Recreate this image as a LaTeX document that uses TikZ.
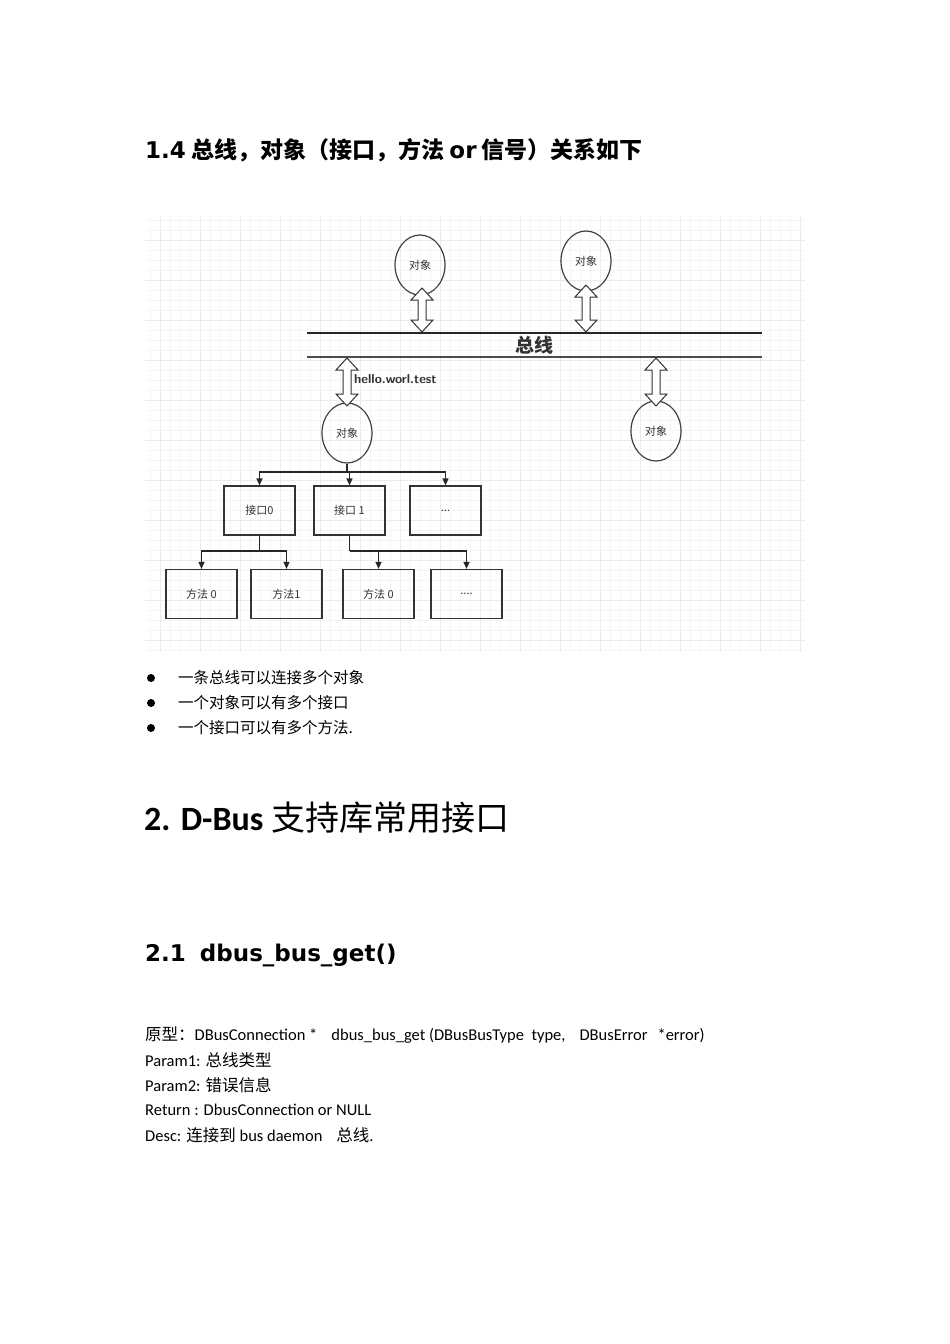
\documentclass[tikz,border=0pt]{standalone}
\usepackage{fontspec}
\setmainfont{Carlito}
\newfontfamily\cjk{Noto Sans CJK SC}
\newfontfamily\dvs{DejaVu Sans}
\usetikzlibrary{shapes.geometric,arrows.meta}
\newcommand\darr[3]{\draw[line width=1pt,fill=white,draw=black!80] (#1,#2) -- (#1+11,#2+12) -- (#1+4,#2+12) -- (#1+4,#3-12) -- (#1+11,#3-12) -- (#1,#3) -- (#1-11,#3-12) -- (#1-4,#3-12) -- (#1-4,#2+12) -- (#1-11,#2+12) -- cycle;}
\begin{document}
\begin{tikzpicture}[x=1pt,y=-1pt,
  obj/.style={ellipse,draw=black!75,line width=1.2pt,minimum width=50pt,minimum height=60pt,inner sep=0pt,font=\cjk\fontsize{11}{12}\selectfont,text=black!80},
  box/.style={rectangle,draw=black!80,line width=1.2pt,minimum width=71pt,minimum height=49pt,inner sep=0pt,font=\cjk\fontsize{11}{12}\selectfont,text=black!80},
  tree/.style={draw=black!85,line width=1.4pt,-{Triangle[length=7pt,width=6pt]}},
  body/.style={anchor=west,font=\fontsize{16.5}{18}\selectfont,inner sep=0pt}]
\useasboundingbox (0,0) rectangle (950,1344);
\fill[white] (0,0) rectangle (950,1344);
\node[anchor=west,inner sep=0pt,font=\cjk\bfseries\fontsize{23}{25}\selectfont] (t1) at (145,150) {{\dvs\bfseries 1.4} 总线，对象（接口，方法 {\dvs\bfseries or} 信号）关系如下};
% grid
\draw[black!4,line width=0.5pt] (145,215) grid[step=10pt] (805,652);
\draw[black!8,line width=0.6pt] (145,215) grid[step=40pt] (805,652);
% bus
\draw[black!85,line width=1.2pt] (307,333) -- (762,333);
\draw[black!70,line width=1.2pt] (307,357) -- (762,357);
\node[font=\cjk\bfseries\fontsize{19}{20}\selectfont,text=black!80] (bus) at (534,345) {总线};
\node[obj] (o1) at (420,265) {对象};
\node[obj] (o2) at (586,261) {对象};
\node[obj] (o3) at (347,433) {对象};
\node[obj] (o4) at (656,431) {对象};
\darr{422}{288}{332}
\darr{586}{285}{332}
\darr{347}{358}{406}
\darr{656}{358}{406}
\node[anchor=west,inner sep=0pt,font=\bfseries\sffamily\fontsize{13}{14}\selectfont,text=black!80] (hw) at (354,379) {hello.worl.test};
\node[box] (i0) at (259.5,510.5) {接口0};
\node[box] (i1) at (349.5,510.5) {接口 1};
\node[box] (i2) at (445.5,510.5) {...};
\node[box] (m0) at (201.5,594) {方法 0};
\node[box] (m1) at (286.5,594) {方法1};
\node[box] (m2) at (378.5,594) {方法 0};
\node[box] (m3) at (466.5,594) {....};
\coordinate (j0) at (347,472);
\draw[black!85,line width=1.4pt] (o3.south) -- (j0);
\draw[tree] (j0) -| (i0.north);
\draw[tree] (j0) -| (i1.north);
\draw[tree] (j0) -| (i2.north);
\coordinate (j1) at (259.5,551);
\draw[black!85,line width=1.4pt] (i0.south) -- (j1);
\draw[tree] (j1) -| (m0.north);
\draw[tree] (j1) -| (m1.north);
\coordinate (j2) at (349.5,551);
\draw[black!85,line width=1.4pt] (i1.south) -- (j2);
\draw[tree] (j2) -| (m2.north);
\draw[tree] (j2) -| (m3.north);
% bullets
\foreach \y/\t [count=\i] in {678/一条总线可以连接多个对象,703/一个对象可以有多个接口,728/一个接口可以有多个方法.}{
  \fill (151,\y) circle (4pt);
  \node[anchor=west,inner sep=0pt,font=\cjk\fontsize{15.5}{17}\selectfont] (b\i) at (178,\y) {\t};
}
\node[anchor=west,inner sep=0pt,font=\bfseries\fontsize{34}{36}\selectfont] (h2) at (144,818) {2. D-Bus {\cjk\mdseries 支持库常用接口}};
\node[anchor=west,inner sep=0pt,font=\dvs\bfseries\fontsize{23}{25}\selectfont] (h21) at (145,955) {2.1\hspace{14pt}dbus\_bus\_get()};
\node[body] (l1) at (145,1035) {{\cjk 原型：}DBusConnection *\hspace{14pt}dbus\_bus\_get (DBusBusType\ \ type,\hspace{14pt}DBusError\hspace{10pt}*error)};
\node[body] (l2) at (145,1060) {Param1: {\cjk 总线类型}};
\node[body] (l3) at (145,1085) {Param2: {\cjk 错误信息}};
\node[body] (l4) at (145,1110) {Return : DbusConnection or NULL};
\node[body] (l5) at (145,1135) {Desc: {\cjk 连接到} bus daemon\hspace{14pt}{\cjk 总线}.};
\end{tikzpicture}
\end{document}
